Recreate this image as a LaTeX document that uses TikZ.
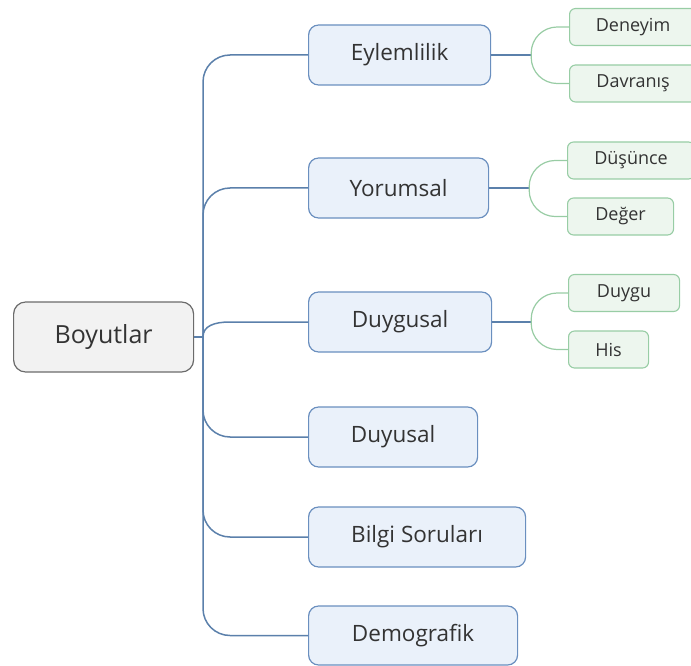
\documentclass[tikz,border=0pt]{standalone}
\usepackage{fontspec}
\setmainfont{Open Sans}
\usetikzlibrary{calc}
\definecolor{bline}{HTML}{5B80AB}
\definecolor{bborder}{HTML}{6A8FBF}
\definecolor{bfill}{HTML}{EAF1FA}
\definecolor{gline}{HTML}{98CCA4}
\definecolor{gborder}{HTML}{98CDA5}
\definecolor{gfill}{HTML}{EDF6EE}
\definecolor{rfill}{HTML}{F2F2F2}
\definecolor{rborder}{HTML}{6B6B6B}
\definecolor{txt}{HTML}{333333}
\tikzset{
  rootbox/.style={draw=rborder, fill=rfill, line width=1.2pt, rounded corners=12pt, anchor=west,
    minimum height=70pt, inner sep=0pt, text=txt, font=\fontsize{25}{30}\selectfont},
  mainbox/.style={draw=bborder, fill=bfill, line width=1.2pt, rounded corners=10pt, anchor=west,
    minimum height=60pt, inner sep=0pt, text=txt, font=\fontsize{22.5}{27}\selectfont},
  leafbox/.style={draw=gborder, fill=gfill, line width=1.1pt, rounded corners=6pt, anchor=west,
    minimum height=37pt, inner sep=0pt, text=txt, font=\fontsize{18}{22}\selectfont},
  bconn/.style={draw=bline, line width=1.5pt},
  gconn/.style={draw=gline, line width=1.2pt, rounded corners=26pt},
}
\begin{document}
\begin{tikzpicture}[x=1pt,y=-1pt]
\useasboundingbox (0,0) rectangle (691,666);
\clip (0,0) rectangle (691,666);
% root
\node[rootbox, minimum width=180pt] (B) at (13,337) {Boyutlar};
% main nodes
\node[mainbox, minimum width=182pt] (E) at (308,55) {Eylemlilik};
\node[mainbox, minimum width=180pt] (Y) at (308,188) {Yorumsal};
\node[mainbox, minimum width=183pt] (Dg) at (308,322) {Duygusal};
\node[mainbox, minimum width=169pt] (Dy) at (308,437) {Duyusal};
\node[mainbox, minimum width=217pt] (Bs) at (308,537) {Bilgi Soruları};
\node[mainbox, minimum width=209pt, minimum height=59pt] (Dm) at (308,635.5) {Demografik};
% leaves
\node[leafbox, minimum width=127pt] (De) at (569,27) {Deneyim};
\node[leafbox, minimum width=127pt] (Da) at (569,83.5) {Davranış};
\node[leafbox, minimum width=127pt] (Du) at (567,160.5) {Düşünce};
\node[leafbox, minimum width=106pt] (Dr) at (567,216.5) {Değer};
\node[leafbox, minimum width=111pt] (Dd) at (568,293) {Duygu};
\node[leafbox, minimum width=80pt] (Hs) at (568,349.5) {His};
% trunk
\coordinate (j) at (203,337);
\draw[bconn] (B.east) -- (j);
\draw[bconn, rounded corners=27pt] (j) |- (E.west);
\draw[bconn, rounded corners=27pt] (j) |- (Y.west);
\draw[bconn] (j) .. controls (203,326) and (214,322) .. (230,322) -- (Dg.west);
\draw[bconn, rounded corners=27pt] (j) |- (Dy.west);
\draw[bconn, rounded corners=27pt] (j) |- (Bs.west);
\draw[bconn, rounded corners=27pt] (j) |- (Dm.west);
% forks
\coordinate (f1) at ($(E.east)+(40,0)$);
\coordinate (f2) at ($(Y.east)+(40,0)$);
\coordinate (f3) at ($(Dg.east)+(39,0)$);
\draw[bconn] (E.east) -- (f1);
\draw[bconn] (Y.east) -- (f2);
\draw[bconn] (Dg.east) -- (f3);
\draw[gconn] (f1) |- (De.west);
\draw[gconn] (f1) |- (Da.west);
\draw[gconn] (f2) |- (Du.west);
\draw[gconn] (f2) |- (Dr.west);
\draw[gconn] (f3) |- (Dd.west);
\draw[gconn] (f3) |- (Hs.west);
\end{tikzpicture}
\end{document}
